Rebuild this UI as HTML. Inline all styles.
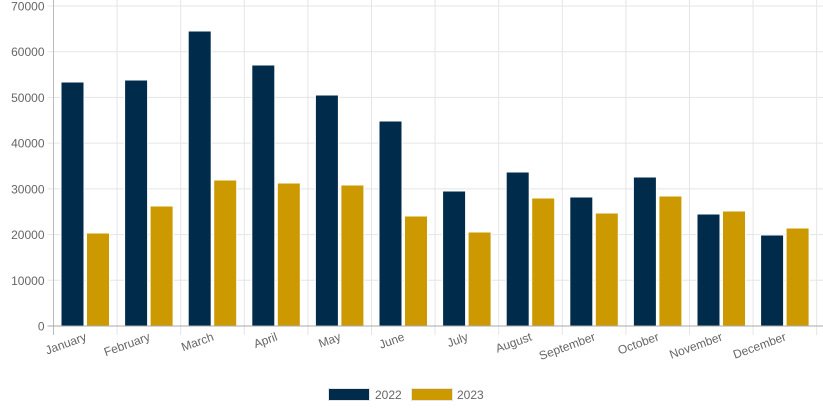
<!DOCTYPE html>
<html><head><style>html,body{margin:0;padding:0;background:#fff}</style></head><body>
<svg width="823" height="411" xmlns="http://www.w3.org/2000/svg" font-family="Liberation Sans, sans-serif">
<g stroke="#e5e5e5">
<line x1="47.5" x2="823" y1="280.3" y2="280.3"/><line x1="47.5" x2="823" y1="234.6" y2="234.6"/><line x1="47.5" x2="823" y1="188.9" y2="188.9"/><line x1="47.5" x2="823" y1="143.1" y2="143.1"/><line x1="47.5" x2="823" y1="97.4" y2="97.4"/><line x1="47.5" x2="823" y1="51.7" y2="51.7"/><line x1="47.5" x2="823" y1="6" y2="6"/>
<line x1="117.1" x2="117.1" y1="0" y2="335"/><line x1="180.7" x2="180.7" y1="0" y2="335"/><line x1="244.3" x2="244.3" y1="0" y2="335"/><line x1="307.9" x2="307.9" y1="0" y2="335"/><line x1="371.5" x2="371.5" y1="0" y2="335"/><line x1="435.1" x2="435.1" y1="0" y2="335"/><line x1="498.7" x2="498.7" y1="0" y2="335"/><line x1="562.3" x2="562.3" y1="0" y2="335"/><line x1="625.9" x2="625.9" y1="0" y2="335"/><line x1="689.5" x2="689.5" y1="0" y2="335"/><line x1="753.1" x2="753.1" y1="0" y2="335"/><line x1="816.7" x2="816.7" y1="0" y2="335"/>
</g>
<g font-size="12" fill="#666" text-anchor="end">
<text x="44.5" y="330.5">0</text><text x="44.5" y="284.8">10000</text><text x="44.5" y="239.1">20000</text><text x="44.5" y="193.4">30000</text><text x="44.5" y="147.6">40000</text><text x="44.5" y="101.9">50000</text><text x="44.5" y="56.2">60000</text><text x="44.5" y="10.5">70000</text>
</g>
<g fill="#002b4b" stroke="#fff">
<rect x="61" y="82" width="23" height="244"/><rect x="124.6" y="80" width="23" height="246"/><rect x="188.2" y="31" width="23" height="295"/><rect x="251.8" y="65" width="23" height="261"/><rect x="315.4" y="95" width="23" height="231"/><rect x="379" y="121" width="23" height="205"/><rect x="442.6" y="191" width="23" height="135"/><rect x="506.2" y="172" width="23" height="154"/><rect x="569.8" y="197" width="23" height="129"/><rect x="633.4" y="177" width="23" height="149"/><rect x="697" y="214" width="23" height="112"/><rect x="760.6" y="235" width="23" height="91"/>
</g>
<g fill="#cc9900" stroke="#fff">
<rect x="86.5" y="233" width="23" height="93"/><rect x="150.1" y="206" width="23" height="120"/><rect x="213.7" y="180" width="23" height="146"/><rect x="277.3" y="183" width="23" height="143"/><rect x="340.9" y="185" width="23" height="141"/><rect x="404.5" y="216" width="23" height="110"/><rect x="468.1" y="232" width="23" height="94"/><rect x="531.7" y="198" width="23" height="128"/><rect x="595.3" y="213" width="23" height="113"/><rect x="658.9" y="196" width="23" height="130"/><rect x="722.5" y="211" width="23" height="115"/><rect x="786.1" y="228" width="23" height="98"/>
</g>
<line x1="53.5" x2="53.5" y1="0" y2="335" stroke="#bbb"/>
<line x1="47.5" x2="823" y1="326" y2="326" stroke="#aaa"/>
<g font-size="12" fill="#666" text-anchor="end">
<text transform="translate(87.3,340) rotate(-20)">January</text>
<text transform="translate(150.9,340) rotate(-20)">February</text>
<text transform="translate(214.5,340) rotate(-20)">March</text>
<text transform="translate(278.1,340) rotate(-20)">April</text>
<text transform="translate(341.7,340) rotate(-20)">May</text>
<text transform="translate(405.3,340) rotate(-20)">June</text>
<text transform="translate(468.9,340) rotate(-20)">July</text>
<text transform="translate(532.5,340) rotate(-20)">August</text>
<text transform="translate(596.1,340) rotate(-20)">September</text>
<text transform="translate(659.7,340) rotate(-20)">October</text>
<text transform="translate(723.3,340) rotate(-20)">November</text>
<text transform="translate(786.9,340) rotate(-20)">December</text>
</g>
<rect x="328.5" y="388.5" width="41" height="12" fill="#002b4b" stroke="#e5e5e5"/><text x="375" y="399" font-size="12" fill="#666">2022</text>
<rect x="411.5" y="388.5" width="41" height="12" fill="#cc9900" stroke="#e5e5e5"/><text x="457" y="399" font-size="12" fill="#666">2023</text>
</svg>
</body></html>
